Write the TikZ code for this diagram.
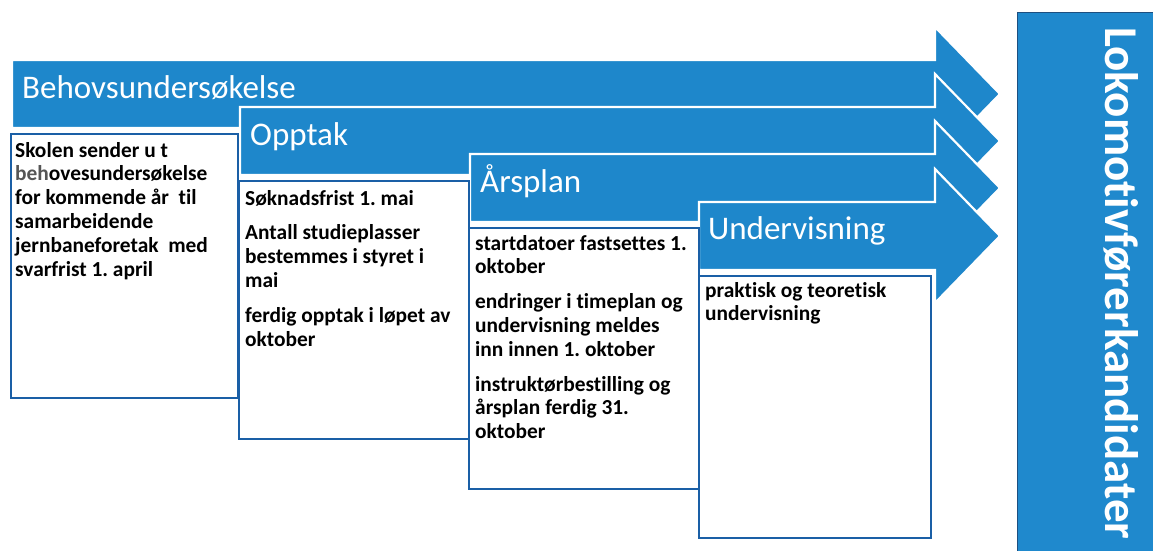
\documentclass[tikz,border=0pt]{standalone}
\usepackage{fontspec}
\setmainfont{Carlito}[Ligatures={NoCommon}]
\frenchspacing
\definecolor{arrowblue}{HTML}{1E87CB}
\definecolor{panelblue}{HTML}{1F89CD}
\definecolor{boxline}{HTML}{1A5FA6}
\definecolor{paneline}{HTML}{1D4F80}
\tikzset{
  stagearrow/.style={fill=arrowblue, draw=white, line width=2.2pt, line join=miter},
  stagetitle/.style={anchor=base west, inner sep=0pt, text=white, font=\fontsize{33}{36}\selectfont},
  infobox/.style={draw=boxline, line width=1.8pt, fill=white, anchor=north west, inner sep=0pt, rectangle},
  infotext/.style={anchor=base west, inner sep=0pt, text=black},
}
\newcommand{\boxpar}[1]{\parbox[t]{225pt}{\fontsize{21.4}{23.8}\selectfont\bfseries\frenchspacing\setlength{\parindent}{0pt}\setlength{\parskip}{11pt}#1}}
\newcommand{\stagepath}[2]{% #1 = left x, #2 = top y
  (#1,#2) -- (935,#2) -- (935,#2-33) -- (1000,#2+34) -- (935,#2+101) -- (935,#2+68) -- (#1,#2+68) -- cycle}
\begin{document}
\begin{tikzpicture}[x=1pt,y=-1pt]
\useasboundingbox (0,0) rectangle (1153,551);
\fill[white] (0,0) rectangle (1153,551);

% arrows
\fill[stagearrow] \stagepath{12}{60};
\draw[stagearrow] \stagepath{12}{60};
\draw[stagearrow] \stagepath{240}{107};
\draw[stagearrow] \stagepath{470}{154};
\draw[stagearrow] \stagepath{699}{202};

\node[stagetitle] (t1) at (22,98) {Behovsundersøkelse};
\node[stagetitle] (t2) at (250,145) {Opptak};
\node[stagetitle] (t3) at (480,192) {Årsplan};
\node[stagetitle] (t4) at (708,239) {Undervisning};

% boxes
\node[infobox, minimum width=227pt, minimum height=264pt] (b1) at (10,133) {};
\node[infobox, minimum width=230pt, minimum height=258pt] (b2) at (238,180) {};
\node[infobox, minimum width=230pt, minimum height=261pt] (b3) at (468,227) {};
\node[infobox, minimum width=232pt, minimum height=262pt] (b4) at (698,275) {};

\node[infotext] (x1) at (15,157) {\boxpar{Skolen sender u t\\{\color[HTML]{555555}beh}ovesundersøkelse\\for kommende år\ \ til\\samarbeidende\\jernbaneforetak\ \ med\\svarfrist 1. april}};
\node[infotext] (x2) at (245,205) {\boxpar{Søknadsfrist 1. mai\par Antall studieplasser\\bestemmes i styret i\\mai\par ferdig opptak i løpet av\\oktober}};
\node[infotext] (x3) at (475,250) {\boxpar{startdatoer fastsettes 1.\\oktober\par endringer i timeplan og\\undervisning meldes\\inn innen 1. oktober\par instruktørbestilling og\\årsplan ferdig 31.\\oktober}};
\node[infotext] (x4) at (705,297) {\boxpar{praktisk og teoretisk\\undervisning}};

% right panel
\node[draw=paneline, line width=1.2pt, fill=panelblue, anchor=north west, inner sep=0pt, minimum width=140pt, minimum height=545pt] (panel) at (1017,12) {};
\node[anchor=base west, inner sep=0pt, rotate=-90, text=white, font=\fontsize{47}{50}\selectfont\bfseries] (ptext) at (1105,27) {Lokomotivførerkandidater};
\end{tikzpicture}
\end{document}
